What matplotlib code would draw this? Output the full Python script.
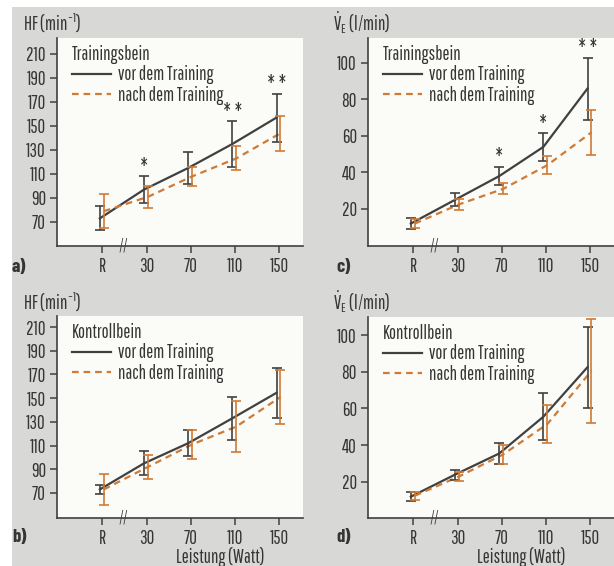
import matplotlib
matplotlib.use("Agg")
import matplotlib.pyplot as plt
from matplotlib.patches import Rectangle
import matplotlib.transforms as mtransforms
import numpy as np

FONT = 'Pathway Gothic One'
plt.rcParams['font.family'] = [FONT, 'Barlow Condensed', 'DejaVu Sans']
plt.rcParams['mathtext.fontset'] = 'custom'
plt.rcParams['mathtext.rm'] = FONT
plt.rcParams['mathtext.it'] = FONT
plt.rcParams['mathtext.default'] = 'regular'

# ---------------- data ----------------
categories = ['R', '30', '70', '110', '150']

a_vor = [73, 97, 115, 135, 157]
a_vor_err = [10, 11, 13, 19, 20]
a_nach = [79, 91, 108, 123, 144]
a_nach_err = [14, 9, 8, 10, 14.5]
a_stars = ['', '*', '', '**', '**']

b_vor = [73, 95, 112, 133, 154.5]
b_vor_err = [4, 10, 11, 18, 21]
b_nach = [73, 92, 111, 126, 151]
b_nach_err = [13, 10, 12.5, 21.5, 23]
b_stars = ['', '', '', '', '']

c_vor = [12, 25, 38, 54, 86]
c_vor_err = [3, 3.5, 5, 7.5, 17]
c_nach = [12, 22.5, 31, 44, 62]
c_nach_err = [2.5, 3, 3, 5, 12.5]
c_stars = ['', '', '*', '*', '**']

d_vor = [12, 24, 35.5, 55.5, 82.5]
d_vor_err = [2.5, 2.7, 5.8, 12.7, 22]
d_nach = [12.5, 23, 35, 51.5, 80.5]
d_nach_err = [2.3, 2.7, 5.3, 10.5, 28.3]
d_stars = ['', '', '', '', '']

hf_ticks = [70, 90, 110, 130, 150, 170, 190, 210]
ve_ticks = [20, 40, 60, 80, 100]

leg_vor = 'vor dem Training'
leg_nach = 'nach dem Training'

# ---------------- style ----------------
W, H = 614, 566
BG = '#d8d8d6'
AXBG = '#fbfbf8'
DARK = '#404040'
ORANGE = '#cf7a35'
TXT = '#353535'
FS = 13.5      # legend / titles
TFS = 13.5     # tick labels

fig = plt.figure(figsize=(W / 100, H / 100), dpi=100)
fig.patch.set_facecolor(BG)
# white scan margins
fig.patches.append(Rectangle((0, 1 - 7 / H), 1, 7 / H, transform=fig.transFigure,
                             facecolor='white', edgecolor='none', zorder=0))
fig.patches.append(Rectangle((0, 0), 12 / W, 1, transform=fig.transFigure,
                             facecolor='white', edgecolor='none', zorder=0))


def px_axes(left, top, right, bottom):
    return fig.add_axes([left / W, 1 - bottom / H, (right - left) / W, (bottom - top) / H])


def ftext(x, y, s, **kw):
    fig.text(x / W, 1 - y / H, s, color=TXT, **kw)


x = np.arange(len(categories))


def panel(ax, vor, vor_err, nach, nach_err, stars, yticks, ylim, title):
    ax.set_facecolor(AXBG)
    for s in ['top', 'right']:
        ax.spines[s].set_visible(False)
    for s in ['left', 'bottom']:
        ax.spines[s].set_color(DARK)
        ax.spines[s].set_linewidth(1.2)
    xv = x - 0.06
    xn = x + 0.03
    ax.plot(xv, vor, color=DARK, lw=1.6, label=leg_vor, zorder=3)
    ax.plot(xn, nach, color=ORANGE, lw=1.6, ls=(0, (3, 2.2)), label=leg_nach, zorder=3)
    ax.errorbar(xv, vor, yerr=vor_err, fmt='none', ecolor=DARK, elinewidth=1.2,
                capsize=3.5, capthick=1.2, zorder=4)
    ax.errorbar(xn, nach, yerr=nach_err, fmt='none', ecolor=ORANGE, elinewidth=1.2,
                capsize=3.5, capthick=1.2, zorder=4)
    for xi, v, e, st in zip(xv, vor, vor_err, stars):
        if st:
            ax.annotate(' '.join(st), (xi, v + e), xytext=(0, -1), textcoords='offset points',
                        ha='center', va='bottom', fontsize=15, color=TXT)
    ax.set_xlim(-1.03, 4.54)
    ax.set_ylim(*ylim)
    ax.set_xticks(x)
    ax.set_xticklabels(categories)
    ax.set_yticks(yticks)
    ax.tick_params(axis='both', colors=DARK, labelcolor=TXT, labelsize=TFS,
                   length=5, width=1.1)
    ax.tick_params(axis='x', pad=3)
    ax.tick_params(axis='y', pad=3)
    # axis break mark
    trans = mtransforms.blended_transform_factory(ax.transData, ax.transAxes)
    ax.text(0.47, 0.0, '//', transform=trans, ha='center', va='center',
            fontsize=12, color=DARK, clip_on=False)
    leg = ax.legend(loc='upper left', bbox_to_anchor=(0.045, 0.985), frameon=False,
                    title=title, alignment='left', fontsize=FS,
                    title_fontsize=FS, handlelength=2.1, handletextpad=0.35,
                    labelspacing=0.08, borderpad=0.2, borderaxespad=0)
    for t in leg.get_texts():
        t.set_color(TXT)
    leg.get_title().set_color(TXT)


ax_a = px_axes(57, 38, 303, 246)
panel(ax_a, a_vor, a_vor_err, a_nach, a_nach_err, a_stars, hf_ticks, (50, 223.3), 'Trainingsbein')
ax_c = px_axes(368, 38, 614, 246)
panel(ax_c, c_vor, c_vor_err, c_nach, c_nach_err, c_stars, ve_ticks, (-0.3, 113.7), 'Trainingsbein')
ax_b = px_axes(57, 316, 303, 518)
panel(ax_b, b_vor, b_vor_err, b_nach, b_nach_err, b_stars, hf_ticks, (48.9, 219.3), 'Kontrollbein')
ax_d = px_axes(368, 317, 614, 518)
panel(ax_d, d_vor, d_vor_err, d_nach, d_nach_err, d_stars, ve_ticks, (0.4, 109.8), 'Kontrollbein')

# axis titles
ftext(23, 23, 'HF (min$^{-1}$)', fontsize=FS, va='center', ha='left')
ftext(333, 23, r'$\dot{V}_E$ (l/min)', fontsize=FS, va='center', ha='left')
ftext(23, 302, 'HF (min$^{-1}$)', fontsize=FS, va='center', ha='left')
ftext(333, 302, r'$\dot{V}_E$ (l/min)', fontsize=FS, va='center', ha='left')

# panel letters
for px, py, s in [(12, 267, 'a)'), (336, 267, 'c)'), (12, 538, 'b)'), (336, 538, 'd)')]:
    ftext(px, py, s, fontsize=13.5, fontweight='bold', va='center', ha='left',
          family=['Barlow Condensed', 'DejaVu Sans'])

# x-axis titles
ftext(220, 563, 'Leistung (Watt)', fontsize=FS, va='baseline', ha='center')
ftext(521, 563, 'Leistung (Watt)', fontsize=FS, va='baseline', ha='center')

fig.savefig('out.png', dpi=100, facecolor=fig.get_facecolor())
